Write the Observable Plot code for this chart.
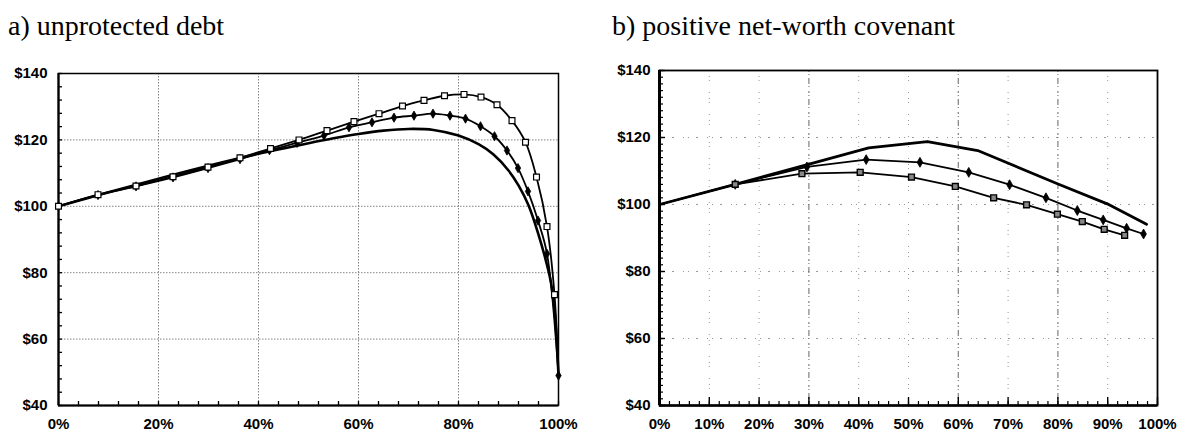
<!DOCTYPE html>
<html>
<head>
<meta charset="utf-8">
<script src="https://cdn.jsdelivr.net/npm/d3@7"></script>
<script src="https://cdn.jsdelivr.net/npm/@observablehq/plot@0.6"></script>
<style>
  body { margin: 0; background: #fff; width: 1181px; height: 432px; position: relative; overflow: hidden; }
  .title { position: absolute; top: 12px; font-family: "Liberation Serif", "Times New Roman", serif; font-size: 28px; line-height: 28px; color: #000; white-space: nowrap; }
  .panel { position: absolute; top: 50px; }
</style>
</head>
<body>
<div class="title" style="left:8px">a) unprotected debt</div>
<div class="title" style="left:612px">b) positive net-worth covenant</div>
<div id="left" class="panel" style="left:0px"></div>
<div id="right" class="panel" style="left:590px"></div>
<script>
// ---- a) unprotected debt: value of equity vs. leverage ----
const aPlainX  = [0, 10, 20, 30, 40, 50, 55, 60, 65, 70, 75, 80, 84, 87, 90, 92, 94, 96, 97.5, 98.5, 99.3, 100];
const aPlainV  = [100, 104.2, 108.3, 112.2, 115.8, 119.0, 120.5, 121.8, 122.8, 123.3, 123.0, 121.3, 118.7, 115.6, 110.8, 106.3, 100.3, 91.5, 83.5, 77, 67, 49];
const aDiamondX = [0, 7.9, 15.5, 22.9, 29.9, 36.3, 42.2, 47.7, 53.1, 58.1, 62.7, 67.1, 71.1, 74.9, 78.3, 81.4, 84.4, 87.2, 89.7, 91.9, 93.9, 95.9, 97.7, 100];
const aDiamondV = [100, 103.4, 106.0, 108.7, 111.5, 114.2, 116.9, 119.1, 121.3, 123.8, 125.3, 126.7, 127.3, 127.9, 127.3, 126.4, 124.1, 121.1, 116.8, 111.5, 104.5, 95.7, 85.7, 49];
const aSquareX = [0, 7.9, 15.5, 22.9, 29.9, 36.3, 42.4, 48.1, 53.7, 59.1, 64.1, 68.8, 73.1, 77.2, 81.1, 84.5, 87.7, 90.7, 93.4, 95.6, 97.7, 99.2];
const aSquareV = [100, 103.5, 106.1, 108.9, 111.8, 114.6, 117.4, 120.0, 122.8, 125.5, 127.9, 130.2, 131.9, 133.3, 133.7, 132.9, 130.6, 125.8, 119.3, 108.8, 93.9, 73.4];
const aEnd = [{x: 100, v: 49}];

// ---- b) positive net-worth covenant ----
const bPlainX = [0, 15.2, 29.7, 42, 53.8, 63.9, 79.9, 89.9, 97.8];
const bPlainV = [100, 106, 111.9, 116.9, 118.8, 116.1, 106.2, 100.2, 94.1];
const bDiamondX = [0, 15.2, 29.6, 41.5, 52.3, 62.1, 70.3, 77.6, 83.9, 89.1, 93.8, 97.2];
const bDiamondV = [100, 106, 111.2, 113.4, 112.6, 109.6, 105.9, 102.0, 98.2, 95.4, 92.9, 91.2];
const bSquareX = [0, 15.2, 28.6, 40.3, 50.6, 59.4, 67.1, 73.7, 79.9, 84.9, 89.3, 93.4];
const bSquareV = [100, 106, 109.2, 109.6, 108.2, 105.4, 102.0, 99.9, 97.1, 94.9, 92.6, 90.8];

// axis ticks
const yTicks = [40, 60, 80, 100, 120, 140];
const aTicksX = [0, 20, 40, 60, 80, 100];
const bTicksX = [0, 10, 20, 30, 40, 50, 60, 70, 80, 90, 100];

const rows = (xs, vs) => xs.map((x, i) => ({x, v: vs[i]}));
const pct = d => d + "%";
const usd = d => "$" + d;
const font = {fontFamily: "'Liberation Sans', Arial, sans-serif", fontSize: "15px", fontWeight: "bold", color: "#000", background: "transparent", overflow: "visible"};

// panel a
{
  const W = 590, H = 382, mL = 58, mR = 32, mT = 23, mB = 27;
  const pw = W - mL - mR, ph = H - mT - mB;
  const minorX = d3.range(0, 101, 4);
  const minorY = d3.range(40, 141, 4);
  const chart = Plot.plot({
    width: W, height: H, marginLeft: mL, marginRight: mR, marginTop: mT, marginBottom: mB,
    x: {domain: [0, 100], label: null},
    y: {domain: [40, 140], label: null},
    style: font,
    marks: [
      Plot.gridX([20, 40, 60, 80], {stroke: "#666", strokeOpacity: 0.8, strokeWidth: 1, strokeDasharray: "1.5,1.5"}),
      Plot.gridY([60, 80, 100, 120], {stroke: "#666", strokeOpacity: 0.8, strokeWidth: 1, strokeDasharray: "1.5,1.5"}),
      Plot.tickX(minorX, {x: d => d, insetTop: ph - 4, stroke: "#000", strokeWidth: 1.3}),
      Plot.tickY(minorY, {y: d => d, insetRight: pw - 4, stroke: "#000", strokeWidth: 1.3}),
      Plot.frame({stroke: "#000", strokeWidth: 1.5}),
      Plot.ruleX([0], {stroke: "#000", strokeWidth: 2.2}),
      Plot.ruleY([40], {stroke: "#000", strokeWidth: 2.2}),
      Plot.axisX(aTicksX, {tickSize: 0, tickPadding: 13, tickFormat: pct, label: null}),
      Plot.axisY(yTicks, {tickSize: 0, tickPadding: 11, tickFormat: usd, label: null}),
      Plot.line(rows(aPlainX, aPlainV), {x: "x", y: "v", curve: "catmull-rom", stroke: "#000", strokeWidth: 2.6}),
      Plot.line(rows(aDiamondX, aDiamondV), {x: "x", y: "v", curve: "catmull-rom", stroke: "#000", strokeWidth: 1.8}),
      Plot.line(rows(aSquareX, aSquareV).concat(aEnd), {x: "x", y: "v", curve: "catmull-rom", stroke: "#000", strokeWidth: 1.8}),
      Plot.dot(rows(aDiamondX, aDiamondV), {x: "x", y: "v", symbol: "diamond", r: 2.8, fill: "#000", stroke: "#000", strokeWidth: 0.8}),
      Plot.dot(rows(aSquareX, aSquareV), {x: "x", y: "v", symbol: "square", r: 3.3, fill: "#fff", stroke: "#000", strokeWidth: 1.2})
    ]
  });
  document.getElementById("left").append(chart);
}

// panel b
{
  const W = 591, H = 382, mL = 69, mR = 24, mT = 20, mB = 27;
  const pw = W - mL - mR, ph = H - mT - mB;
  const minorX = d3.range(0, 101, 2);
  const minorY = d3.range(40, 141, 2);
  const chart = Plot.plot({
    width: W, height: H, marginLeft: mL, marginRight: mR, marginTop: mT, marginBottom: mB,
    x: {domain: [0, 100], label: null},
    y: {domain: [40, 140], label: null},
    style: font,
    marks: [
      Plot.gridX([10, 20, 40, 50, 70, 90], {stroke: "#555", strokeOpacity: 0.6, strokeWidth: 1, strokeDasharray: "1,5,1,3,1,11"}),
      Plot.gridX([30, 60, 80], {stroke: "#555", strokeOpacity: 0.75, strokeWidth: 1.2, strokeDasharray: "2,2,1,3,6,2,1,4"}),
      Plot.gridY([60, 80, 100, 120], {stroke: "#555", strokeOpacity: 0.6, strokeWidth: 1, strokeDasharray: "1,4,1,7,2,9"}),
      Plot.tickX(minorX, {x: d => d, insetTop: ph - 4, stroke: "#000", strokeWidth: 1.2}),
      Plot.tickX(bTicksX, {x: d => d, insetTop: ph - 8, stroke: "#000", strokeWidth: 1.4}),
      Plot.tickY(minorY, {y: d => d, insetRight: pw - 4, stroke: "#000", strokeWidth: 1.2}),
      Plot.tickY(yTicks, {y: d => d, insetRight: pw - 6, stroke: "#000", strokeWidth: 1.4}),
      Plot.frame({stroke: "#000", strokeWidth: 1.8}),
      Plot.ruleX([0], {stroke: "#000", strokeWidth: 3}),
      Plot.ruleY([40], {stroke: "#000", strokeWidth: 2.4}),
      Plot.axisX(bTicksX, {tickSize: 0, tickPadding: 13, tickFormat: pct, label: null}),
      Plot.axisY(yTicks, {tickSize: 0, tickPadding: 9, tickFormat: usd, label: null}),
      Plot.line(rows(bPlainX, bPlainV), {x: "x", y: "v", stroke: "#000", strokeWidth: 2.8}),
      Plot.line(rows(bDiamondX, bDiamondV), {x: "x", y: "v", stroke: "#000", strokeWidth: 1.8}),
      Plot.line(rows(bSquareX, bSquareV), {x: "x", y: "v", stroke: "#000", strokeWidth: 1.8}),
      Plot.dot(rows(bDiamondX, bDiamondV).slice(1), {x: "x", y: "v", symbol: "diamond", r: 3, fill: "#000", stroke: "#000", strokeWidth: 0.8}),
      Plot.dot(rows(bSquareX, bSquareV).slice(1), {x: "x", y: "v", symbol: "square", r: 3.3, fill: "#888", stroke: "#000", strokeWidth: 1.4})
    ]
  });
  document.getElementById("right").append(chart);
}
</script>
</body>
</html>
